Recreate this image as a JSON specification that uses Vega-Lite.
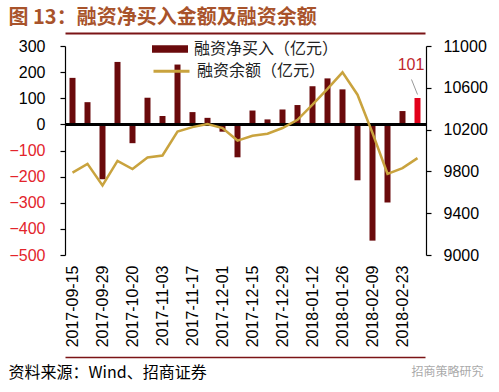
{
  "$schema": "https://vega.github.io/schema/vega-lite/v6.json",
  "width": 499,
  "height": 209,
  "autosize": {"type": "none"},
  "padding": {"left": 0, "top": 46, "right": 0, "bottom": 137},
  "background": "white",
  "config": {"view": {"stroke": null}, "font": "Liberation Sans", "axis": {"grid": false}},
  "data": {"values": [
    {"date": "2017-09-15", "net": 178, "bal": 9789},
    {"date": "2017-09-22", "net": 85, "bal": 9872},
    {"date": "2017-09-29", "net": -210, "bal": 9665},
    {"date": "2017-10-13", "net": 239, "bal": 9901},
    {"date": "2017-10-20", "net": -72, "bal": 9822},
    {"date": "2017-10-27", "net": 102, "bal": 9933},
    {"date": "2017-11-03", "net": 32, "bal": 9952},
    {"date": "2017-11-10", "net": 229, "bal": 10182},
    {"date": "2017-11-17", "net": 47, "bal": 10224},
    {"date": "2017-11-24", "net": 25, "bal": 10253},
    {"date": "2017-12-01", "net": -28, "bal": 10215},
    {"date": "2017-12-08", "net": -126, "bal": 10095},
    {"date": "2017-12-15", "net": 53, "bal": 10141},
    {"date": "2017-12-22", "net": 19, "bal": 10160},
    {"date": "2017-12-29", "net": 57, "bal": 10215},
    {"date": "2018-01-05", "net": 74, "bal": 10294},
    {"date": "2018-01-12", "net": 146, "bal": 10438},
    {"date": "2018-01-19", "net": 176, "bal": 10589},
    {"date": "2018-01-26", "net": 134, "bal": 10748},
    {"date": "2018-02-02", "net": -214, "bal": 10534},
    {"date": "2018-02-09", "net": -445, "bal": 10167},
    {"date": "2018-02-14", "net": -299, "bal": 9777},
    {"date": "2018-02-23", "net": 51, "bal": 9831},
    {"date": "2018-03-02", "net": 101, "bal": 9927}
  ]},
  "layer": [
    {
      "layer": [
        {
          "mark": {"type": "bar"},
          "encoding": {
            "x": {
              "field": "date", "type": "ordinal",
              "scale": {"type": "band", "range": [65, 425], "paddingInner": 0.6, "paddingOuter": 0.3, "align": 0.5},
              "axis": {
                "orient": "bottom", "offset": 102,
                "values": ["2017-09-15", "2017-09-29", "2017-10-20", "2017-11-03", "2017-11-17", "2017-12-01", "2017-12-15", "2017-12-29", "2018-01-12", "2018-01-26", "2018-02-09", "2018-02-23"],
                "labelAngle": -90, "labelFontSize": 16, "labelPadding": -92, "ticks": false, "tickSize": 0,
                "domainColor": "#7B1416", "domainWidth": 1.5, "labelOverlap": false, "labelBound": false,
                "labelColor": "black", "labelFont": "Liberation Sans",
                "title": "资料来源：Wind、招商证券", "titleX": 8, "titleY": 15, "titleAlign": "left",
                "titleBaseline": "middle", "titleFontSize": 16, "titleFont": "Noto Sans CJK SC",
                "titleFontWeight": "normal", "titleColor": "black"
              }
            },
            "y": {
              "field": "net", "type": "quantitative",
              "scale": {"domain": [-500, 300], "nice": false},
              "axis": {
                "orient": "left", "offset": -65, "values": [-500, -400, -300, -200, -100, 0, 100, 200, 300],
                "tickCount": 20,
                "title": null, "domainColor": "black", "domainWidth": 1.2, "tickColor": "black",
                "tickSize": 5, "tickWidth": 1.2, "labelFontSize": 16, "labelPadding": 15,
                "labelFont": "Liberation Sans", "format": "d", "labelOverlap": false, "labelBound": false,
                "labelColor": {"condition": {"test": "datum.value < 0", "value": "#E3242B"}, "value": "black"}
              }
            },
            "color": {
              "condition": {"test": "datum.date === '2018-03-02'", "value": "#E2001A"},
              "datum": "融资净买入（亿元）",
              "scale": {"range": ["#6A0A0C"]},
              "legend": {
                "orient": "none", "legendX": 152, "legendY": -15, "title": null, "padding": 0,
                "symbolType": "M-1,-0.21H1V0.21H-1Z", "symbolSize": 1296, "symbolStrokeWidth": 0,
                "labelFontSize": 16, "labelFont": "Noto Sans CJK SC", "labelOffset": 6, "labelColor": "#222"
              }
            }
          }
        },
        {
          "mark": {"type": "rule", "color": "black", "strokeWidth": 1.5, "xOffset": -7.5, "x2Offset": 8.5},
          "encoding": {
            "x": {"datum": "2017-09-15", "type": "ordinal"},
            "x2": {"datum": "2018-03-02"},
            "y": {"datum": 0, "type": "quantitative"}
          }
        },
        {
          "transform": [{"filter": "datum.date === '2018-03-02'"}],
          "mark": {"type": "text", "color": "#C0272D", "fontSize": 16, "font": "Liberation Sans", "dx": -6.5, "dy": -32.5, "baseline": "middle", "align": "center"},
          "encoding": {
            "x": {"field": "date", "type": "ordinal"},
            "y": {"field": "net", "type": "quantitative"},
            "text": {"field": "net", "type": "quantitative"}
          }
        },
        {
          "transform": [{"filter": "datum.date === '2018-03-02'"}],
          "mark": {"type": "rule", "color": "#999999", "strokeWidth": 1, "xOffset": -6, "yOffset": -18.5, "x2Offset": 0, "y2Offset": -3.5},
          "encoding": {
            "x": {"field": "date", "type": "ordinal"},
            "x2": {"field": "date"},
            "y": {"field": "net", "type": "quantitative"},
            "y2": {"field": "net"}
          }
        }
      ]
    },
    {
      "mark": {"type": "line", "strokeWidth": 2.5},
      "encoding": {
        "x": {
          "field": "date", "type": "ordinal",
          "scale": {"type": "band", "range": [65, 425], "paddingInner": 0.6, "paddingOuter": 0.3, "align": 0.5},
          "axis": {
            "orient": "top", "offset": 13, "labels": false, "ticks": false,
            "domainColor": "#7B1416", "domainWidth": 2,
            "title": "图 13：融资净买入金额及融资余额", "titleX": 8, "titleY": -16, "titleAlign": "left",
            "titleBaseline": "middle", "titleFontSize": 20, "titleFont": "Noto Sans CJK SC",
            "titleFontWeight": "bold", "titleColor": "#A8532B"
          }
        },
        "y": {
          "field": "bal", "type": "quantitative",
          "scale": {"domain": [9000, 11000], "nice": false, "zero": false},
          "axis": {
            "orient": "right", "offset": -73, "values": [9000, 9400, 9800, 10200, 10600, 11000],
            "tickCount": 20,
            "format": "d", "domainColor": "black", "domainWidth": 1.2, "tickColor": "black",
            "tickSize": 5, "tickWidth": 1.2, "labelFontSize": 16, "labelPadding": 12,
            "labelFont": "Liberation Sans", "labelColor": "black", "labelOverlap": false, "labelBound": false,
            "title": "招商策略研究", "titleAngle": 0, "titleX": 57, "titleY": 325, "titleAlign": "right",
            "titleBaseline": "middle", "titleColor": "#aaaaaa", "titleFontSize": 12,
            "titleFont": "Noto Sans CJK SC", "titleFontWeight": "normal"
          }
        },
        "stroke": {
          "datum": "融资余额（亿元）",
          "scale": {"range": ["#C9A33E"]},
          "legend": {
            "orient": "none", "legendX": 152, "legendY": 5.7, "title": null, "padding": 0,
            "symbolType": "stroke", "symbolSize": 1296, "symbolStrokeWidth": 3,
            "labelFontSize": 16, "labelFont": "Noto Sans CJK SC", "labelOffset": 6, "labelColor": "#222"
          }
        }
      }
    }
  ],
  "resolve": {"scale": {"y": "independent"}, "axis": {"x": "independent", "y": "independent"}}
}
